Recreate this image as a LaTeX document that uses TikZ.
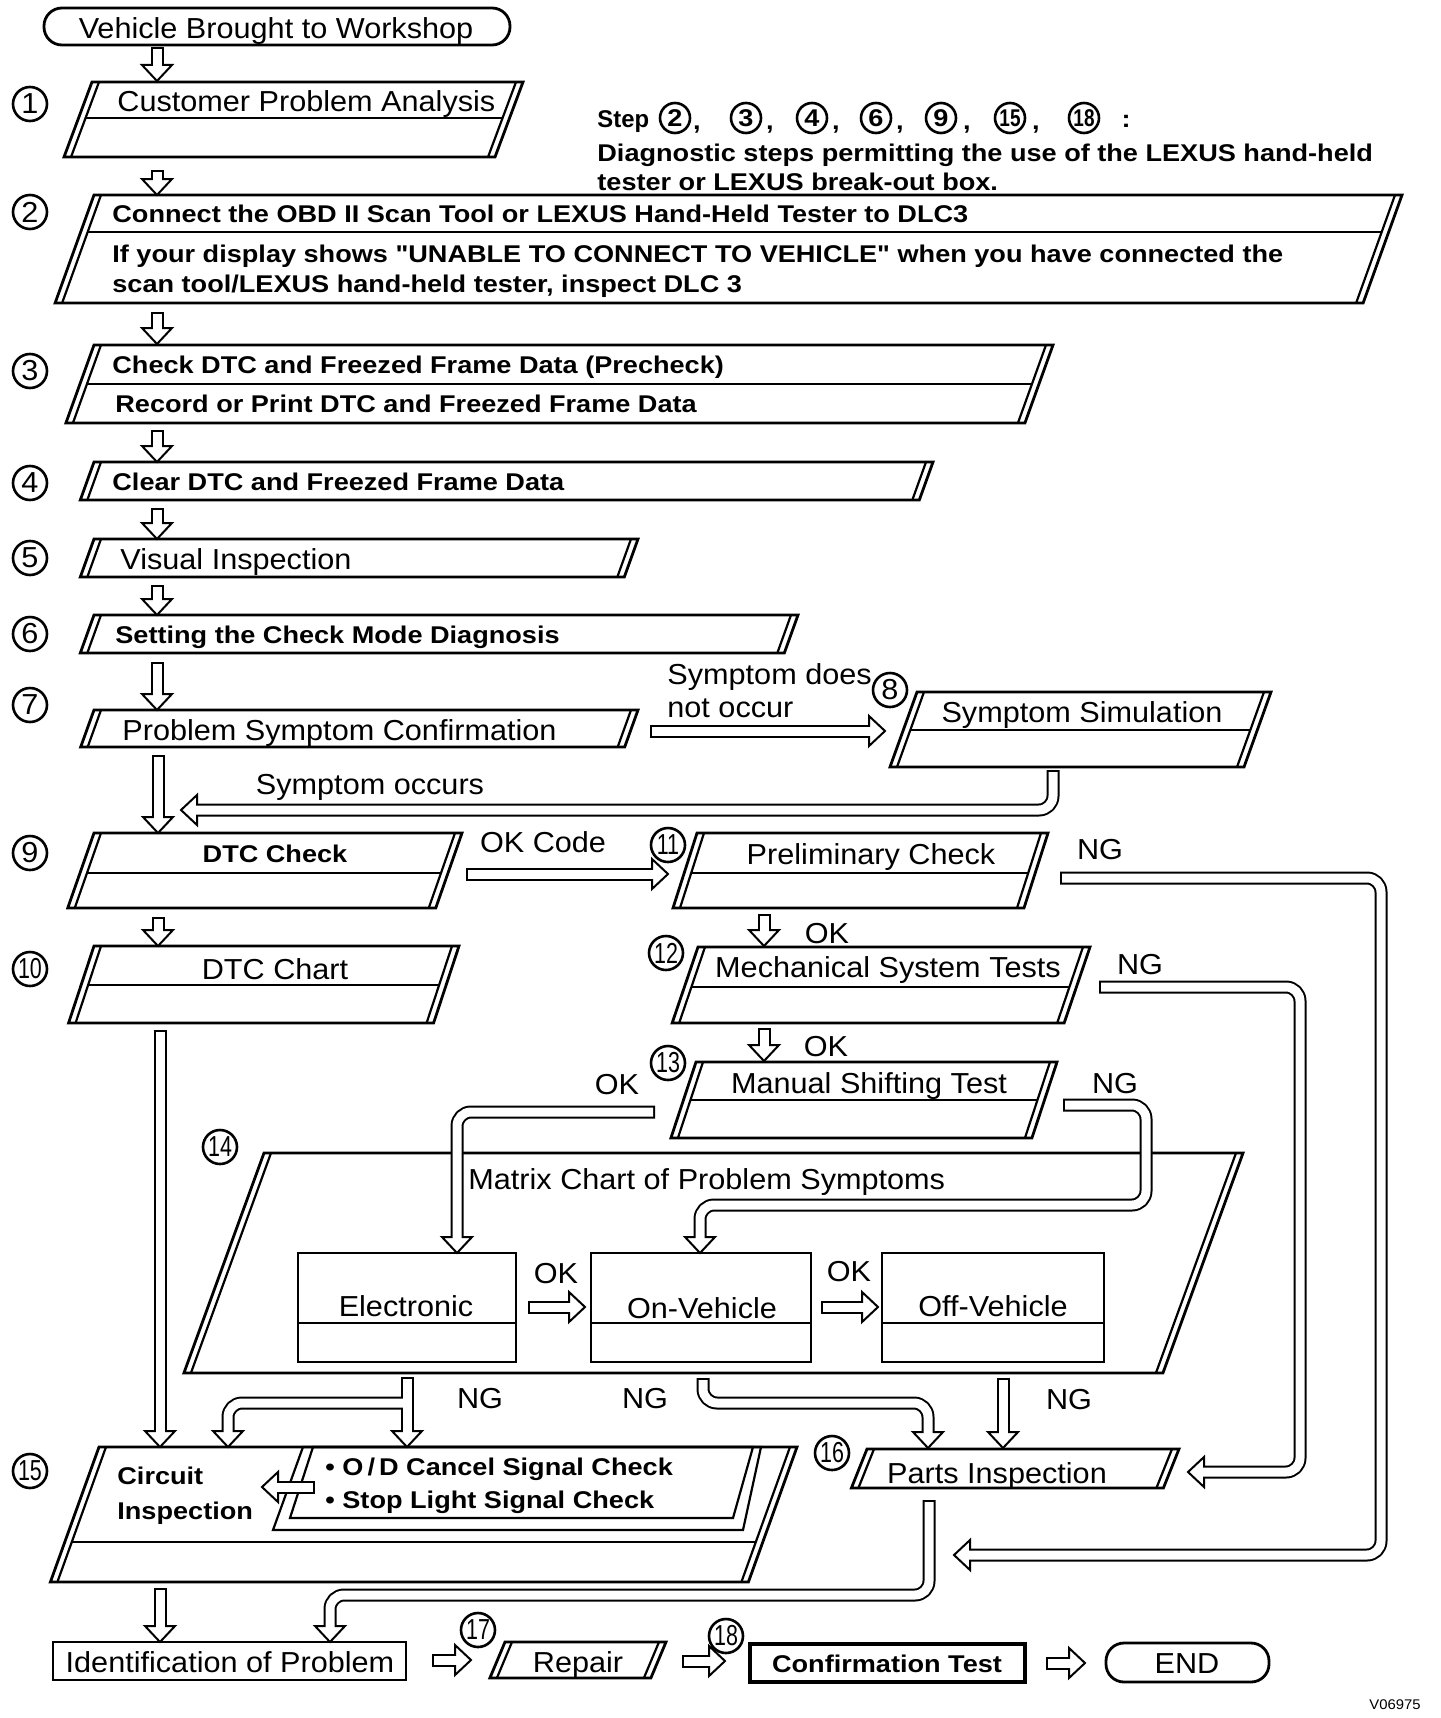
\documentclass[tikz,border=0pt]{standalone}
\usepackage{fontspec}
\usepackage{graphicx}
\setmainfont{Liberation Sans}[FakeStretch=1.06, BoldFeatures={FakeStretch=1.12}]
\newfontfamily\qf{Liberation Sans}[FakeStretch=1.12]
\newcommand{\dq}{{\qf\bfseries"}}
\newcommand{\rf}{\fontsize{14.45}{16}\selectfont}
\newcommand{\bfn}{\fontsize{12.1}{14}\selectfont\bfseries}
\newcommand{\nn}[1]{\scalebox{0.7}[1]{#1}}
\tikzset{
  bl/.style={line width=1.4pt, line join=miter},
  el/.style={line width=1.1pt},
  tx/.style={inner sep=0pt, font=\rf, text height=0.716em, text depth=0pt, yshift=-2pt},
  tb/.style={inner sep=0pt, font=\bfn, text height=0.716em, text depth=0pt, yshift=-1pt},
  num/.style={circle, draw, line width=1.3pt, minimum size=17pt, inner sep=0pt, font=\rf},
  snum/.style={circle, draw, line width=1.3pt, minimum size=15pt, inner sep=0pt, font=\bfn},
  shb/.style={line width=6.5pt, rounded corners=7pt, line cap=butt, line join=round},
  shw/.style={line width=4.5pt, white, rounded corners=7pt, line cap=butt, shorten <=1pt},
  hd/.style={line width=1pt, fill=white, line join=miter},
}
% slanted box: name, x top-left, y top, x top-right, y bottom, slant, y divider (0 = none)
\newcommand{\slbox}[7]{%
  \pgfmathsetmacro\sbd{#6*(#5-#3)}%
  \coordinate (#1-tl) at (#2,#3);
  \coordinate (#1-tr) at (#4,#3);
  \coordinate (#1-bl) at ({#2-\sbd},#5);
  \coordinate (#1-br) at ({#4-\sbd},#5);
  \draw[el] ([xshift=3.5pt]#1-tl) -- ([xshift=3.5pt]#1-bl);
  \draw[el] ([xshift=-3.5pt]#1-tr) -- ([xshift=-3.5pt]#1-br);
  \draw[bl] (#1-tl) -- (#1-tr) -- (#1-br) -- (#1-bl) -- cycle;
  \ifdim #7pt>0pt
    \pgfmathsetmacro\sbe{#6*(#7-#3)}%
    \draw[el] ({#2-\sbe+7},#7) -- ({#4-\sbe-7},#7);
  \fi
}
\newcommand{\headD}[2]{\draw[hd] (#1,#2) -- ++(-15,-16) -- ++(30,0) -- cycle;}
\newcommand{\headL}[2]{\draw[hd] (#1,#2) -- ++(16,-15) -- ++(0,30) -- cycle;}
\newcommand{\headR}[2]{\draw[hd] (#1,#2) -- ++(-16,-15) -- ++(0,30) -- cycle;}
\newcommand{\harrow}[2]{\draw[shb] #1; #2 \draw[shw] #1;}
\newcommand{\darrow}[3]{\pgfmathsetmacro\ab{#3-14}\harrow{(#1,#2) -- (#1,\ab)}{\headD{#1}{#3}}}
\newcommand{\rarrow}[3]{\pgfmathsetmacro\ab{#3-14}\harrow{(#2,#1) -- (\ab,#1)}{\headR{#3}{#1}}}
\begin{document}
\begin{tikzpicture}[x=0.5pt,y=-0.5pt]
\useasboundingbox (0,0) rectangle (1440,1718);

% ---------- terminators ----------
\draw[bl, rounded corners=9pt] (44,8) rectangle (510,45);
\node[tx] (t0) at (276,27) {Vehicle Brought to Workshop};

% ---------- slanted boxes ----------
\slbox{b1}{92}{82}{523}{157}{0.373}{118}
\slbox{b2}{94}{195}{1402}{303}{0.36}{232}
\slbox{b3}{94}{345}{1053}{423}{0.36}{384}
\slbox{b4}{94}{462}{933}{500}{0.36}{0}
\slbox{b5}{94}{539}{638}{577}{0.36}{0}
\slbox{b6}{94}{615}{798}{653}{0.36}{0}
\slbox{b7}{94}{710}{638}{747}{0.36}{0}
\slbox{b8}{917}{692}{1271}{767}{0.36}{730}
\slbox{b9}{94}{833}{462}{908}{0.35}{873}
\slbox{b10}{94}{946}{459}{1023}{0.33}{985}
\slbox{b11}{697}{833}{1048}{908}{0.32}{873}
\slbox{b12}{698}{947}{1090}{1023}{0.34}{987}
\slbox{b13}{696}{1062}{1057}{1138}{0.33}{1100}
\slbox{b14}{264}{1153}{1243}{1373}{0.364}{0}
\slbox{b15}{99}{1447}{797}{1582}{0.36}{1542}
\slbox{b16}{867}{1449}{1179}{1488}{0.4}{0}
\slbox{b17}{505}{1642}{666}{1678}{0.42}{0}

% O/D block inside box 15
\draw[el] (303,1447) -- (761,1447) -- (743,1530) -- (273,1530) -- cycle;
\draw[el] (313,1447) -- (753,1447) -- (733,1518) -- (290,1518) -- cycle;

% rectangles
\draw[bl] (298,1253) rectangle (516,1362); \draw[el] (298,1323) -- (516,1323);
\draw[bl] (591,1253) rectangle (811,1362); \draw[el] (591,1323) -- (811,1323);
\draw[bl] (882,1253) rectangle (1104,1362); \draw[el] (882,1323) -- (1104,1323);
\draw[el] (53,1642) rectangle (406,1680);
\draw[line width=2.2pt] (750,1644) rectangle (1025,1682);
\draw[bl, rounded corners=9pt] (1106,1643) rectangle (1269,1682);

% ---------- texts ----------
\node[tx,anchor=west] (t1) at (117,100) {Customer Problem Analysis};
\node[tb,anchor=west] (t2a) at (112,213) {Connect the OBD II Scan Tool or LEXUS Hand-Held Tester to DLC3};
\node[tb,anchor=west] (t2b) at (112,253) {If your display shows \dq UNABLE TO CONNECT TO VEHICLE\dq\ when you have connected the};
\node[tb,anchor=west] (t2c) at (112,283) {scan tool/LEXUS hand-held tester, inspect DLC 3};
\node[tb,anchor=west] (t3a) at (112,364) {Check DTC and Freezed Frame Data (Precheck)};
\node[tb,anchor=west] (t3b) at (115,403) {Record or Print DTC and Freezed Frame Data};
\node[tb,anchor=west] (t4) at (112,481) {Clear DTC and Freezed Frame Data};
\node[tx,anchor=west] (t5) at (120,558) {Visual Inspection};
\node[tb,anchor=west] (t6) at (115,634) {Setting the Check Mode Diagnosis};
\node[tx,anchor=west] (t7) at (122,729) {Problem Symptom Confirmation};
\node[tx,anchor=west] (l7a) at (667,673) {Symptom does};
\node[tx,anchor=west] (l7b) at (667,706) {not occur};
\node[tx] (t8) at (1082,711) {Symptom Simulation};
\node[tx] (l8) at (370,783) {Symptom occurs};
\node[tb] (t9) at (275,853) {DTC Check};
\node[tx] (l9) at (543,841) {OK Code};
\node[tx] (t10) at (275,968) {DTC Chart};
\node[tx] (t11) at (871,853) {Preliminary Check};
\node[tx] (n11) at (1100,848) {NG};
\node[tx] (o11) at (827,932) {OK};
\node[tx] (t12) at (888,966) {Mechanical System Tests};
\node[tx] (n12) at (1140,963) {NG};
\node[tx] (o12) at (826,1045) {OK};
\node[tx] (t13) at (869,1082) {Manual Shifting Test};
\node[tx] (o13) at (617,1083) {OK};
\node[tx] (n13) at (1115,1082) {NG};
\node[tx,anchor=west] (t14) at (468,1178) {Matrix Chart of Problem Symptoms};
\node[tx] (te) at (406,1305) {Electronic};
\node[tx] (ton) at (702,1307) {On-Vehicle};
\node[tx] (toff) at (993,1305) {Off-Vehicle};
\node[tx] (oe) at (556,1272) {OK};
\node[tx] (oon) at (849,1270) {OK};
\node[tx] (ne) at (480,1397) {NG};
\node[tx] (non) at (645,1397) {NG};
\node[tx] (noff) at (1069,1398) {NG};
\node[tb,anchor=west] (t15a) at (117,1475) {Circuit};
\node[tb,anchor=west] (t15b) at (117,1510) {Inspection};
\node[tb,anchor=west] (t15c) at (325,1466) {• O\,/\,D Cancel Signal Check};
\node[tb,anchor=west] (t15d) at (325,1499) {• Stop Light Signal Check};
\node[tx] (t16) at (997,1472) {Parts Inspection};
\node[tx] (tid) at (230,1661) {Identification of Problem};
\node[tx] (t17) at (578,1661) {Repair};
\node[tb] (t18) at (887,1663) {Confirmation Test};
\node[tx] (tend) at (1187,1662) {END};
\node[inner sep=0pt, font=\fontsize{7}{8}\selectfont] (code) at (1395,1705) {V06975};

% step note
\node[tb,anchor=west] (st) at (597,118) {\scalebox{0.88}[1]{Step}};
\node[snum] (s2) at (675,118) {2};
\node[snum] (s3) at (746,118) {3};
\node[snum] (s4) at (812,118) {4};
\node[snum] (s6) at (876,118) {6};
\node[snum] (s9) at (941,118) {9};
\node[snum] (s15) at (1010,118) {\nn{15}};
\node[snum] (s18) at (1084,118) {\nn{18}};
\foreach \cx in {697,770,836,900,967,1036} \node[tb,anchor=base] at (\cx,127) {,};
\node[tb] (colon) at (1126,118) {:};
\node[tb,anchor=west] (sl2) at (597,152) {Diagnostic steps permitting the use of the LEXUS hand-held};
\node[tb,anchor=west] (sl3) at (597,181) {tester or LEXUS break-out box.};

% step numbers
\node[num] (c1) at (30,104) {1};
\node[num] (c2) at (30,212) {2};
\node[num] (c3) at (30,371) {3};
\node[num] (c4) at (30,483) {4};
\node[num] (c5) at (30,558) {5};
\node[num] (c6) at (30,634) {6};
\node[num] (c7) at (30,705) {7};
\node[num] (c8) at (890,690) {8};
\node[num] (c9) at (30,853) {9};
\node[num] (c10) at (30,969) {\nn{10}};
\node[num] (c11) at (668,845) {\nn{11}};
\node[num] (c12) at (666,953) {\nn{12}};
\node[num] (c13) at (668,1063) {\nn{13}};
\node[num] (c14) at (220,1147) {\nn{14}};
\node[num] (c15) at (30,1471) {\nn{15}};
\node[num] (c16) at (832,1453) {\nn{16}};
\node[num] (c17) at (478,1630) {\nn{17}};
\node[num] (c18) at (726,1636) {\nn{18}};

% ---------- hollow arrows ----------
\darrow{157}{47}{81}
\darrow{157}{170}{195}
\darrow{157}{312}{344}
\darrow{157}{430}{462}
\darrow{157}{508}{539}
\darrow{157}{585}{615}
\darrow{157}{662}{710}
\darrow{158}{755}{833}
\darrow{158}{917}{946}
\darrow{160}{1030}{1447}
\darrow{160}{1588}{1642}
\darrow{764}{914}{946}
\darrow{764}{1028}{1061}
\darrow{1003}{1378}{1448}
\rarrow{731}{650}{885}
\rarrow{874}{466}{668}
\rarrow{1307}{528}{585}
\rarrow{1307}{821}{878}
\rarrow{1660}{432}{471}
\rarrow{1661}{682}{725}
\rarrow{1663}{1046}{1085}
% symptom occurs
\harrow{(1053,770) -- (1053,810) -- (195,810)}{\headL{181}{810}}
% NG from preliminary check
\harrow{(1060,878) -- (1381,878) -- (1381,1555) -- (968,1555)}{\headL{954}{1555}}
% NG from mechanical tests
\harrow{(1099,987) -- (1300,987) -- (1300,1472) -- (1202,1472)}{\headL{1188}{1472}}
% OK from manual shifting
\harrow{(655,1112) -- (457,1112) -- (457,1239)}{\headD{457}{1253}}
% NG from manual shifting
\harrow{(1063,1105) -- (1146,1105) -- (1146,1205) -- (700,1205) -- (700,1239)}{\headD{700}{1253}}
% NG from On-Vehicle
\harrow{(703,1378) -- (703,1403) -- (928,1403) -- (928,1434)}{\headD{928}{1448}}
% NG from Electronic (split)
\draw[shb] (407,1377) -- (407,1433);
\draw[shb] (407,1403) -- (228,1403) -- (228,1433);
\headD{407}{1447}
\headD{228}{1447}
\draw[shw] (407,1377) -- (407,1433);
\draw[shw, shorten <=0pt] (407,1403) -- (228,1403) -- (228,1433);
% from parts inspection to identification
\harrow{(929,1500) -- (929,1595) -- (330,1595) -- (330,1628)}{\headD{330}{1642}}
% O/D to circuit inspection
\harrow{(315,1487) -- (276,1487)}{\headL{262}{1487}}
\end{tikzpicture}
\end{document}
